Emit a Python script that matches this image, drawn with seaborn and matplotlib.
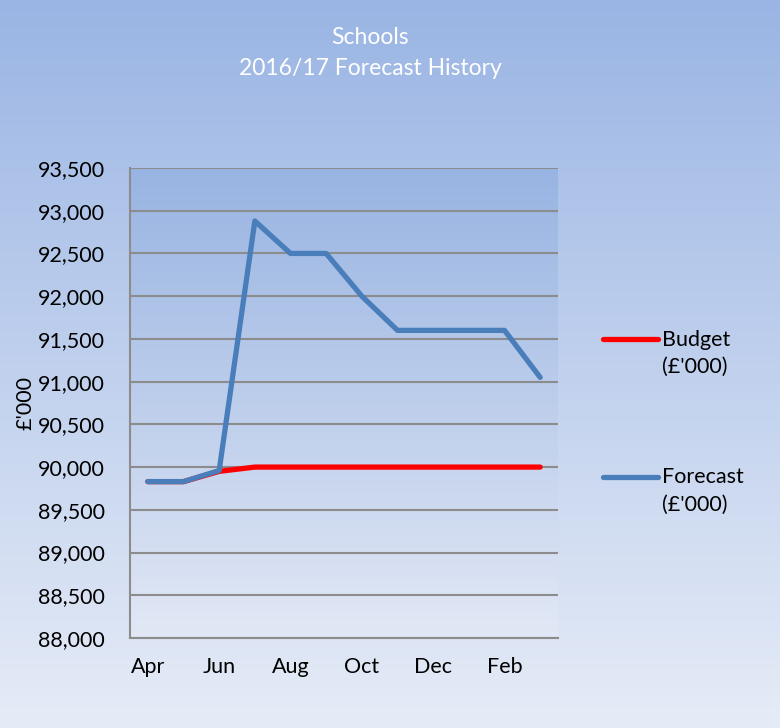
import numpy as np
import pandas as pd
import matplotlib
matplotlib.use("Agg")
import matplotlib.pyplot as plt
import matplotlib.ticker as mticker
from matplotlib.colors import LinearSegmentedColormap
from matplotlib.lines import Line2D
import seaborn as sns

months = ["Apr", "May", "Jun", "Jul", "Aug", "Sep", "Oct", "Nov", "Dec", "Jan", "Feb", "Mar"]
budget = [89830, 89830, 89950, 90000, 90000, 90000, 90000, 90000, 90000, 90000, 90000, 90000]
forecast = [89830, 89830, 89960, 92880, 92500, 92500, 92000, 91600, 91600, 91600, 91600, 91050]
series_names = ["Budget\n(£'000)", "Forecast\n(£'000)"]
series_colors = ["#ff0000", "#4a7ebb"]
yticks = list(range(88000, 93501, 500))
xtick_labels = ["Apr", "Jun", "Aug", "Oct", "Dec", "Feb"]

sns.set_theme(style="white")
plt.rcParams["font.family"] = ["Lato", "DejaVu Sans"]

FS = 15.5

df = pd.DataFrame({
    "x": list(range(len(months))) * 2,
    "value": budget + forecast,
    "series": [series_names[0]] * len(months) + [series_names[1]] * len(months),
})

fig = plt.figure(figsize=(7.8, 7.28), dpi=100)

# figure background gradient
bg = fig.add_axes([0, 0, 1, 1], zorder=-10)
cmap_fig = LinearSegmentedColormap.from_list("figbg", ["#9ab5e4", "#e6ecf7"])
bg.imshow(np.linspace(0, 1, 256).reshape(-1, 1), aspect="auto", cmap=cmap_fig,
          extent=[0, 1, 0, 1], origin="upper")
bg.axis("off")

ax = fig.add_axes([130 / 780, 1 - 638 / 728, 428 / 780, 470 / 728])
ax.set_facecolor("none")

# plot area gradient
cmap_ax = LinearSegmentedColormap.from_list("axbg", ["#98b4e2", "#e2e8f5"])
ax.imshow(np.linspace(0, 1, 256).reshape(-1, 1), aspect="auto", cmap=cmap_ax,
          extent=[-0.5, 11.5, 88000, 93500], origin="upper", zorder=0)

sns.lineplot(data=df, x="x", y="value", hue="series", palette=series_colors,
             linewidth=3.8, ax=ax, legend=False, zorder=3, solid_capstyle="round")

ax.set_xlim(-0.5, 11.5)
ax.set_ylim(88000, 93500)
ax.set_yticks(yticks)
ax.yaxis.set_major_formatter(mticker.FuncFormatter(lambda v, p: f"{int(v):,}"))
ax.set_xticks(range(0, 12, 2))
ax.set_xticklabels(xtick_labels)
ax.set_xticks(np.arange(-0.5, 12, 1), minor=True)
ax.tick_params(axis="x", which="major", length=0, pad=14, labelsize=FS, colors="black")
ax.tick_params(axis="x", which="minor", length=5, width=1.2, color="#8c8c8c", direction="out")
ax.tick_params(axis="y", which="major", length=7, width=1.2, color="#8c8c8c", direction="out",
               labelsize=FS, pad=11)
for lab in ax.get_yticklabels() + ax.get_xticklabels():
    lab.set_color("black")
ax.grid(axis="y", color="#8c8c8c", linewidth=1.5, zorder=1)
ax.set_axisbelow(True)
for s in ["top", "right"]:
    ax.spines[s].set_visible(False)
for s in ["left", "bottom"]:
    ax.spines[s].set_color("#8c8c8c")
    ax.spines[s].set_linewidth(1.5)
ax.set_xlabel("")
ax.set_ylabel("£'000", fontsize=FS, labelpad=1.5, color="black")

handles = [Line2D([], [], color=c, linewidth=3.8, solid_capstyle="round") for c in series_colors]
leg = fig.legend(handles, series_names, loc="upper left", bbox_to_anchor=(592 / 780, 1 - 319 / 728),
                 frameon=False, fontsize=FS, handlelength=2.55, handletextpad=0.2,
                 labelspacing=4.2, borderpad=0)
for t in leg.get_texts():
    t.set_linespacing(1.45)
    t.set_color("black")
for h in leg.legend_handles:
    y = np.asarray(h.get_ydata(), dtype=float)
    h.set_ydata(y + 10.5)

fig.text(370 / 780, 1 - 53 / 728, "Schools\n2016/17 Forecast History", ha="center", va="center",
         color="white", fontsize=16.5, linespacing=1.6)

fig.savefig("out.png", dpi=100)
